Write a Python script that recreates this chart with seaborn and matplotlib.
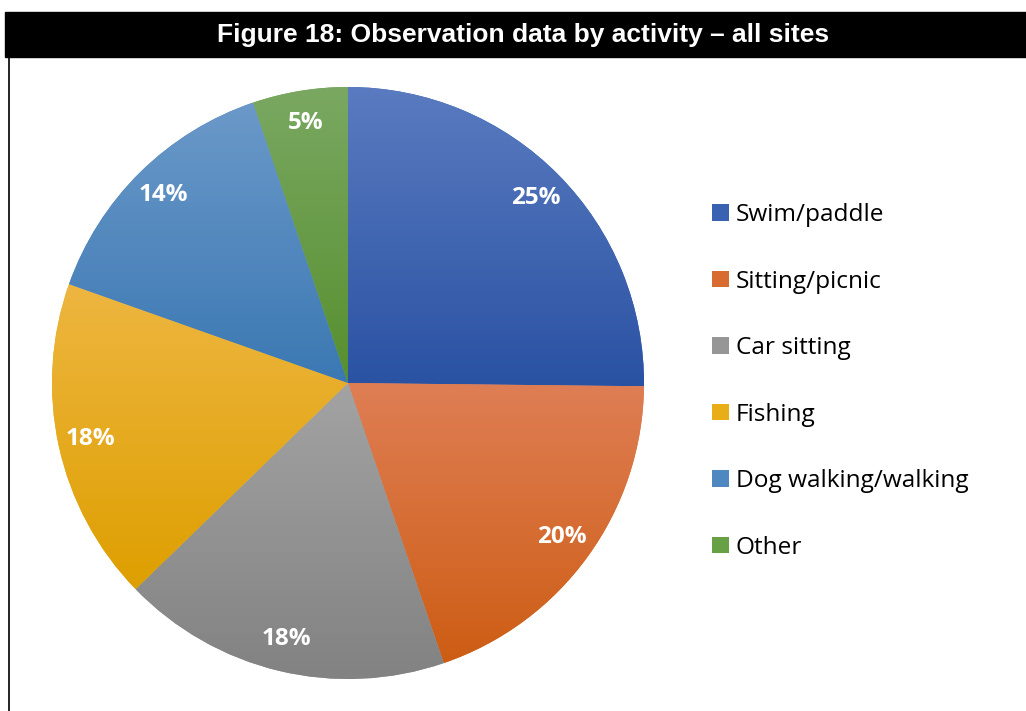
import numpy as np
import matplotlib
matplotlib.use("Agg")
import matplotlib.pyplot as plt
import seaborn as sns
from matplotlib.colors import LinearSegmentedColormap
from matplotlib.patches import Rectangle, Patch
from matplotlib.lines import Line2D

sns.set_style("white")
plt.rcParams['font.family'] = ['Open Sans', 'DejaVu Sans']

activities = ['Swim/paddle', 'Sitting/picnic', 'Car sitting', 'Fishing',
              'Dog walking/walking', 'Other']
share = [25.2, 19.6, 18.0, 17.7, 14.4, 5.2]

# Excel-like vertical gradient per slice (top -> bottom)
top_colors = ['#5a7bc0', '#df7e55', '#a3a3a3', '#eeb641', '#6b99c9', '#7aa862']
bottom_colors = ['#2a52a3', '#cd5d14', '#828282', '#de9f00', '#3b78b3', '#578f2e']
mid_colors = ['#3a62b2', '#d86c30', '#969696', '#e8ad17', '#4f88c0', '#68a046']

fig = plt.figure(figsize=(10.26, 7.11), dpi=100)
W, H = 1026, 711

# title bar
fig.patches.append(Rectangle((5 / W, 1 - 57 / H), 1 - 5 / W, 45 / H,
                             transform=fig.transFigure, color='black', zorder=0))
fig.text(523 / W, 1 - 35 / H, 'Figure 18: Observation data by activity \u2013 all sites',
         color='white', fontsize=19, fontweight='bold', family='Liberation Sans',
         ha='center', va='center')
fig.add_artist(Line2D([8.5 / W, 8.5 / W], [0, 1 - 57 / H], color='black', lw=1.2,
                      transform=fig.transFigure))

cx, cy, r = 348, 383, 296
ax = fig.add_axes([(cx - r) / W, (H - cy - r) / H, 2 * r / W, 2 * r / H])
wedges, texts, autotexts = ax.pie(share, colors=mid_colors, startangle=90, counterclock=False,
                                  autopct='%.0f%%', pctdistance=0.89, radius=1,
                                  wedgeprops=dict(linewidth=0),
                                  textprops=dict(color='white', fontsize=17.5,
                                                 fontweight='bold'))
ax.set_aspect('equal')
ax.axis('off')

for w, c0, c1 in zip(wedges, top_colors, bottom_colors):
    ext = w.get_path().transformed(w.get_patch_transform()).get_extents()
    cmap = LinearSegmentedColormap.from_list('g', [c1, c0])
    grad = np.linspace(0, 1, 256).reshape(-1, 1)
    im = ax.imshow(grad, cmap=cmap, origin='lower', aspect='auto',
                   extent=[ext.x0, ext.x1, ext.y0, ext.y1], zorder=1.5)
    im.set_clip_path(w)
for t in autotexts:
    t.set_zorder(3)
ax.set_xlim(-1, 1)
ax.set_ylim(-1, 1)

handles = [Patch(facecolor=c, edgecolor='none') for c in mid_colors]
fig.legend(handles, activities, loc='upper left', bbox_to_anchor=(712 / W, 1 - 203 / H),
           frameon=False, fontsize=17.6, labelcolor='black', handlelength=0.68,
           handleheight=0.68, handletextpad=0.3, labelspacing=1.74, borderpad=0,
           borderaxespad=0)

fig.savefig('out.png', dpi=100, facecolor='white')
